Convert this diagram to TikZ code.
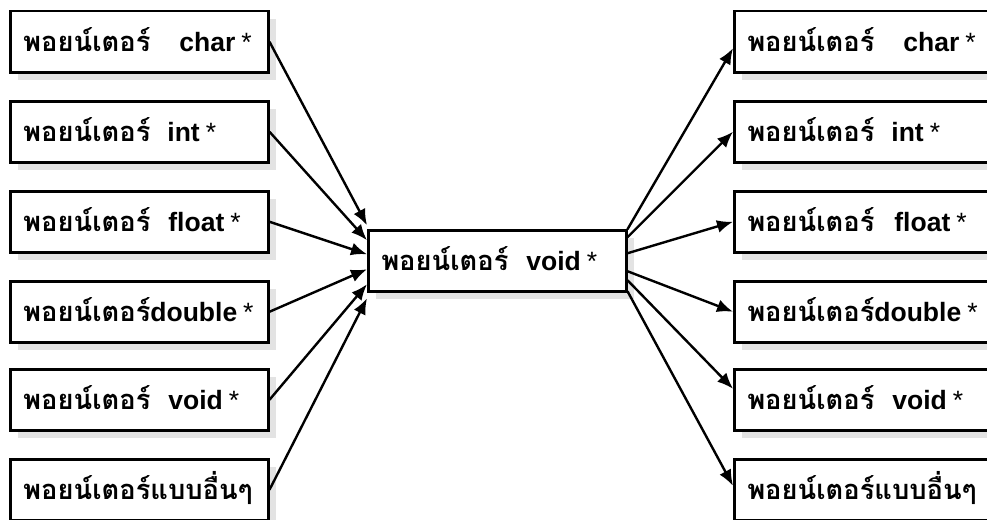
\documentclass[tikz,border=0pt]{standalone}
\usepackage{fontspec}
\setmainfont{Liberation Sans}
\newfontfamily\thaifont[Script=Thai,Scale=1.03]{Loma}
\usetikzlibrary{arrows.meta,positioning,shadows,calc}

\tikzset{
  ptrbox/.style={draw, line width=2.5pt, fill=white, anchor=north west,
    minimum width=258pt, minimum height=61pt, text width=232pt,
    inner xsep=13pt, inner ysep=0pt, align=left,
    text height=22pt, text depth=2pt, font=\fontsize{26.5}{26.5}\selectfont,
    drop shadow={shadow xshift=8pt, shadow yshift=-8pt, fill=gray!22, opacity=1}},
  ptrarrow/.style={line width=2.4pt, -{Latex[length=16pt,width=13pt]}}
}
\newcommand{\ptrtxt}[2]{{\thaifont\bfseries พอยน์เตอร์}\hspace{#1}{\bfseries #2}\hspace{6pt}*}

\begin{document}
\begin{tikzpicture}[x=1pt,y=-1pt]

        \useasboundingbox (0,0) rectangle (987,519);
        \clip (0,0) rectangle (987,519);

        \node[ptrbox] (l1) at (9,10) {\ptrtxt{29pt}{char}};
        \node[ptrbox] (l2) at (9,100) {\ptrtxt{17pt}{int}};
        \node[ptrbox] (l3) at (9,190) {\ptrtxt{18pt}{float}};
        \node[ptrbox] (l4) at (9,280) {\ptrtxt{0pt}{double}};
        \node[ptrbox] (l5) at (9,368) {\ptrtxt{18pt}{void}};
        \node[ptrbox] (l6) at (9,458) {{\thaifont\bfseries พอยน์เตอร์แบบอื่นๆ}};

        \node[ptrbox] (vp) at (367,229) {\ptrtxt{18pt}{void}};

        \node[ptrbox] (r1) at (733,10) {\ptrtxt{29pt}{char}};
        \node[ptrbox] (r2) at (733,100) {\ptrtxt{17pt}{int}};
        \node[ptrbox] (r3) at (733,190) {\ptrtxt{20pt}{float}};
        \node[ptrbox] (r4) at (733,280) {\ptrtxt{0pt}{double}};
        \node[ptrbox] (r5) at (733,368) {\ptrtxt{18pt}{void}};
        \node[ptrbox] (r6) at (733,458) {{\thaifont\bfseries พอยน์เตอร์แบบอื่นๆ}};

        \draw[ptrarrow] (l1.east) -- ([yshift=35.5pt]vp.west);
        \draw[ptrarrow] (l2.east) -- ([yshift=20.5pt]vp.west);
        \draw[ptrarrow] (l3.east) -- ([yshift=6.5pt]vp.west);
        \draw[ptrarrow] (l4.east) -- ([yshift=-8.5pt]vp.west);
        \draw[ptrarrow] (l5.east) -- ([yshift=-23.5pt]vp.west);
        \draw[ptrarrow] (l6.east) -- ([yshift=-37.5pt]vp.west);

        \draw[ptrarrow] ([yshift=31.5pt]vp.east) -- ([yshift=-6.5pt]r1.west);
        \draw[ptrarrow] ([yshift=23.5pt]vp.east) -- (r2.west);
        \draw[ptrarrow] ([yshift=7.5pt]vp.east) -- (r3.west);
        \draw[ptrarrow] ([yshift=-10.5pt]vp.east) -- (r4.west);
        \draw[ptrarrow] ([yshift=-19.5pt]vp.east) -- ([yshift=11pt]r5.west);
        \draw[ptrarrow] ([yshift=-30.5pt]vp.east) -- ([yshift=4pt]r6.west);

      \end{tikzpicture}
\end{document}
